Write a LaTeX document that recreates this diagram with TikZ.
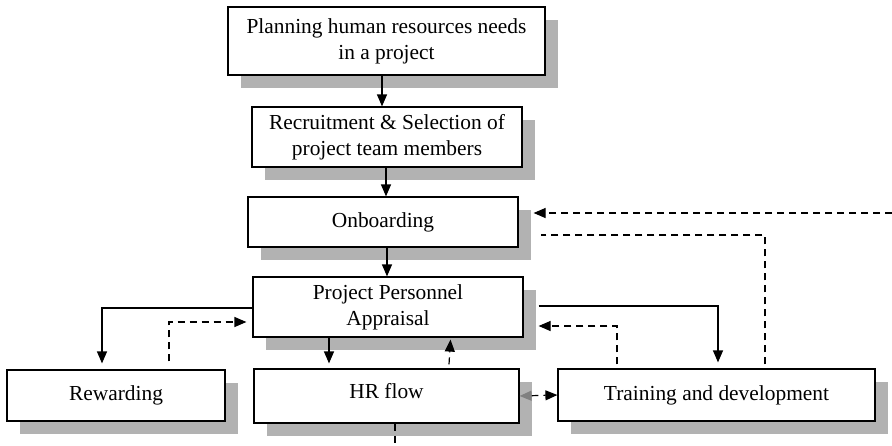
\documentclass[tikz,border=0pt]{standalone}
\usepackage{fontspec}
\setmainfont{Liberation Serif}
\usetikzlibrary{arrows.meta,shadows}

\begin{document}
\begin{tikzpicture}[x=1pt,y=-1pt,
  hrbox/.style={draw,line width=1.2pt,fill=white,rectangle,inner sep=0pt,align=center,
    font=\fontsize{21.4}{26}\selectfont,
    drop shadow={shadow xshift=13pt,shadow yshift=-13pt,fill=black!30,opacity=1}},
  arr/.style={line width=1.2pt,-{Triangle[length=12pt,width=10pt]}},
  dasharr/.style={line width=1.2pt,dash pattern=on 7pt off 5pt,-{Triangle[length=12pt,width=10pt]}},
  dashline/.style={line width=1.2pt,dash pattern=on 7pt off 5pt}]
\useasboundingbox (0,0) rectangle (892,445);
%main column
\node[hrbox,minimum width=317pt,minimum height=68pt] (plan) at (386.5,41) {Planning human resources needs\\in a project};
\node[hrbox,minimum width=270pt,minimum height=60pt] (recr) at (387,137) {Recruitment \& Selection of\\project team members};
\node[hrbox,minimum width=270pt,minimum height=50pt] (onb) at (383,222) {Onboarding};
\node[hrbox,minimum width=270pt,minimum height=60pt] (appr) at (388,307) {Project Personnel\\Appraisal};
%bottom row
\node[hrbox,minimum width=218pt,minimum height=51pt] (rew) at (116,395.5) {Rewarding\vphantom{p}};
\node[hrbox,minimum width=265pt,minimum height=54pt,text depth=10pt] (hrf) at (386.5,396) {HR flow};
\node[hrbox,minimum width=317pt,minimum height=52pt] (trn) at (716.5,395) {Training and development};
\coordinate (ext) at (892,213);
\coordinate (hrout) at (395,445);
%down the column
\draw[arr] ([xshift=-4.5pt]plan.south) -- ([xshift=-4.5pt]plan.south |- recr.north);
\draw[arr] ([xshift=-1pt]recr.south) -- ([xshift=-1pt]recr.south |- onb.north);
\draw[arr] ([xshift=4pt]onb.south) -- ([xshift=4pt]onb.south |- appr.north);
\draw[arr,shorten >=5pt] ([xshift=-59pt]appr.south) -- ([xshift=-59pt]appr.south |- hrf.north);
%left side
\draw[arr,shorten >=6pt] ([yshift=-1pt]appr.west) -| ([xshift=-14pt]rew.north);
\draw[dasharr,shorten >=6pt] ([xshift=53pt,yshift=8pt]rew.north) |- ([yshift=-15pt]appr.west);
%middle
\draw[dasharr] ([xshift=62.5pt,yshift=4pt]hrf.north) -- ([xshift=62.5pt,yshift=-2pt]appr.south);
\draw[line width=1.2pt,dash pattern=on 7pt off 5pt,{Triangle[length=12pt,width=10pt,gray]}-{Triangle[length=12pt,width=10pt]}] (hrf.east) -- (trn.west);
\draw[dashline] ([xshift=8.5pt]hrf.south) -- (hrout);
%right side
\draw[arr,shorten >=6pt] ([xshift=15pt,yshift=1pt]appr.east) -| ([xshift=1.5pt]trn.north);
\draw[dasharr] ([xshift=-99.5pt,yshift=4pt]trn.north) |- ([xshift=15pt,yshift=-19pt]appr.east);
\draw[dashline] ([xshift=48.5pt,yshift=4pt]trn.north) |- ([xshift=22pt,yshift=-13pt]onb.east);
\draw[dasharr] (ext) -- ([xshift=15pt]onb.east |- ext);
\end{tikzpicture}
\end{document}
